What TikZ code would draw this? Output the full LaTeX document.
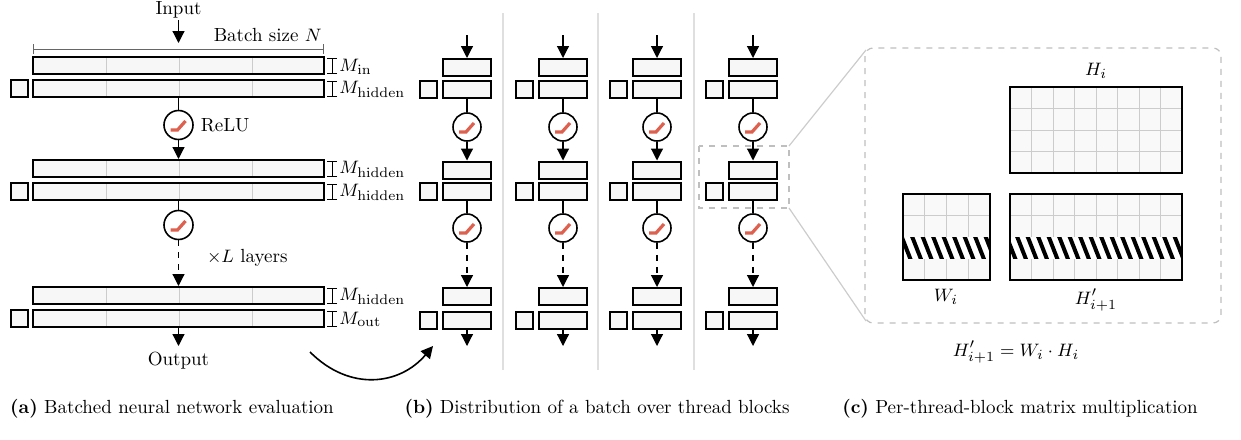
\documentclass[tikz,border=0pt]{standalone}
\usetikzlibrary{arrows.meta}
\begin{document}
\begin{tikzpicture}[x=0.5pt,y=-0.5pt,font=\fontsize{9.5}{11}\selectfont,
 bar/.style={draw,line width=1pt,fill=gray!6,minimum width=145.5pt,minimum height=8.5pt,inner sep=0},
 sbar/.style={bar,minimum width=24pt},
 sq/.style={draw,line width=1pt,fill=gray!6,minimum size=8.5pt,inner sep=0},
 relu/.style={circle,draw,line width=0.8pt,fill=white,minimum size=14.5pt,inner sep=0},
 arr/.style={-{Triangle[length=6pt,width=6pt]},line width=0.6pt},
 dim/.style={{Bar[width=5pt]}-{Bar[width=5pt]},line width=0.5pt},
 sep/.style={gray!25,line width=0.8pt},
 cell/.style={gray!40,line width=0.4pt},
 mat/.style={draw,line width=1pt},
 hatch/.style={line width=2pt}]
\useasboundingbox (0,0) rectangle (1241,439);
\definecolor{reluc}{RGB}{222,96,78}
\tikzset{ricon/.style={draw=reluc,line width=1.6pt}}
% ---------------- panel a
\node[anchor=north,inner sep=0] (in) at (178.5,1) {Input};
\coordinate (c0) at (178.5,43);
\draw[arr] (178.5,20) -- (c0);
\draw[dim,gray!80!black] (33,49) -- (324,49);
\node[anchor=south east,inner sep=1pt] (bs) at (324,44) {Batch size $N$};
\foreach \n/\y/\lab/\sqq in {a1/65.5/in/0,a2/88.5/hidden/1,a3/168.5/hidden/0,a4/191.5/hidden/1,a5/295.5/hidden/0,a6/318.5/out/1}{
  \node[bar] (\n) at (178.5,\y) {};
  \foreach \x in {106,179,252} \draw[cell] (\x,\y-7.5) -- (\x,\y+7.5);
  \draw[dim] (332,\y-8) -- (332,\y+8);
  \node[anchor=west,inner sep=0] (\n l) at (339,\y+1) {$M_{\mathrm{\lab}}$};
  \ifnum\sqq=1 \node[sq] (\n s) at (19.5,\y) {};\fi
}
\node[relu] (r1) at (178.5,125) {};
\node[relu] (r2) at (178.5,225) {};
\foreach \r in {r1,r2} \draw[ricon,shift={(\r.center)}] (-8,5) -- (-1,5) -- (7,-4);
\node[anchor=west] (rl) at (r1.east) {ReLU};
\draw[line width=0.6pt] (a2) -- (r1);
\draw[arr] (r1) -- (a3);
\draw[line width=0.6pt] (a4) -- (r2);
\draw[arr,dashed] (r2) -- (a5);
\node[anchor=west] (xl) at (200,258) {$\times L$ layers};
\coordinate (c1) at (178.5,346);
\draw[arr] (a6) -- (c1);
\node (out) at (178.5,361) {Output};
\coordinate (p) at (310,352);
\coordinate (q) at (433,346);
\draw[arr,line width=0.8pt] (p) .. controls (350,392) and (400,385) .. (q);
% ---------------- panel b
\foreach \s in {503,598,694} \draw[sep] (\s,13) -- (\s,370);
\foreach \i/\x in {1/467,2/563,3/657,4/753}{
  \coordinate (t\i) at (\x,35);
  \node[sbar] (b\i1) at (\x,67.5) {};
  \node[sbar] (b\i2) at (\x,89.5) {};
  \node[sq] (q\i2) at (\x-38.5,89.5) {};
  \node[relu,minimum size=14pt] (r\i1) at (\x,127) {};
  \node[sbar] (b\i3) at (\x,170) {};
  \node[sbar] (b\i4) at (\x,191.5) {};
  \node[sq] (q\i4) at (\x-38.5,191.5) {};
  \node[relu,minimum size=14pt] (r\i2) at (\x,228) {};
  \node[sbar] (b\i5) at (\x,296.5) {};
  \node[sbar] (b\i6) at (\x,320) {};
  \node[sq] (q\i6) at (\x-38.5,320) {};
  \coordinate (e\i) at (\x,346);
  \foreach \r in {r\i1,r\i2} \draw[ricon,shift={(\r.center)}] (-8,5) -- (-1,5) -- (7,-4);
  \draw[arr] (t\i) -- (b\i1);
  \draw[line width=0.6pt] (b\i2) -- (r\i1);
  \draw[arr] (r\i1) -- (b\i3);
  \draw[line width=0.6pt] (b\i4) -- (r\i2);
  \draw[arr,dashed] (r\i2) -- (b\i5);
  \draw[arr] (b\i6) -- (e\i);
}
% ---------------- zoom
\draw[gray!50,dashed,line width=0.6pt] (699,146) rectangle (789,208);
\draw[gray!40,line width=0.6pt] (789,146) -- (866,50) (789,208) -- (866,321);
\draw[gray!50,dashed,line width=0.6pt,rounded corners=4pt] (865,48) rectangle (1221,323);
% ---------------- panel c
\fill[gray!5] (1010,87) rectangle (1182,173);
\foreach \k in {1,...,7} \draw[cell] (1010+21.5*\k,87) -- (1010+21.5*\k,173);
\foreach \k in {1,2,3} \draw[cell] (1010,87+21.5*\k) -- (1182,87+21.5*\k);
\draw[mat] (1010,87) rectangle (1182,173);
\node (hl) at (1096,71) {$H_i$};
\fill[gray!5] (903,194) rectangle (990,280);
\foreach \k in {1,2,3} \draw[cell] (903+21.75*\k,194) -- (903+21.75*\k,280);
\foreach \k in {1,2,3} \draw[cell] (903,194+21.5*\k) -- (990,194+21.5*\k);
\fill[gray!5] (1010,194) rectangle (1182,280);
\foreach \k in {1,...,7} \draw[cell] (1010+21.5*\k,194) -- (1010+21.5*\k,280);
\foreach \k in {1,2,3} \draw[cell] (1010,194+21.5*\k) -- (1182,194+21.5*\k);
\foreach \xa/\xb in {903/990,1010/1182}{
  \begin{scope}
  \clip (\xa,237) rectangle (\xb,258.5);
  \fill[white] (\xa,237) rectangle (\xb,258.5);
  \foreach \t in {880,890.5,...,1190} \draw[hatch] (\t,235) -- (\t+10,260.5);
  \end{scope}
}
\draw[mat] (903,194) rectangle (990,280);
\draw[mat] (1010,194) rectangle (1182,280);
\node (wl) at (946,297) {$W_i$};
\node (hpl) at (1096,300) {$H'_{i+1}$};
\node (eq) at (1016,352) {$H'_{i+1} = W_i\cdot H_i$};
% ---------------- captions
\node (ca) at (172,409) {\textbf{(a)} Batched neural network evaluation};
\node (cb) at (597,409) {\textbf{(b)} Distribution of a batch over thread blocks};
\node (cc) at (1020,409) {\textbf{(c)} Per-thread-block matrix multiplication};
\end{tikzpicture}
\end{document}
